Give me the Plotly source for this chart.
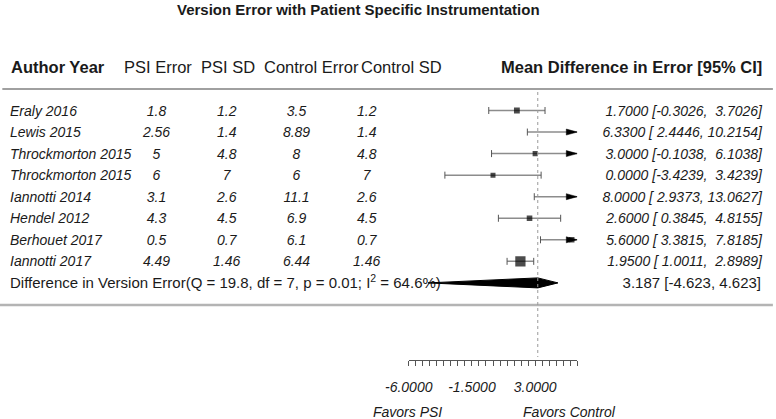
import plotly.graph_objects as go

# ---------------- data ----------------
authors = ["Eraly 2016", "Lewis 2015", "Throckmorton 2015", "Throckmorton 2015",
           "Iannotti 2014", "Hendel 2012", "Berhouet 2017", "Iannotti 2017"]
psi_error = [1.8, 2.56, 5, 6, 3.1, 4.3, 0.5, 4.49]
psi_sd = [1.2, 1.4, 4.8, 7, 2.6, 4.5, 0.7, 1.46]
control_error = [3.5, 8.89, 8, 6, 11.1, 6.9, 6.1, 6.44]
control_sd = [1.2, 1.4, 4.8, 7, 2.6, 4.5, 0.7, 1.46]
mean_diff = [1.7, 6.33, 3.0, 0.0, 8.0, 2.6, 5.6, 1.95]
ci_low = [-0.3026, 2.4446, -0.1038, -3.4239, 2.9373, 0.3845, 3.3815, 1.0011]
ci_high = [3.7026, 10.2154, 6.1038, 3.4239, 13.0627, 4.8155, 7.8185, 2.8989]

summary_label = "Difference in Version Error(Q = 19.8, df = 7, p = 0.01; I<sup>2</sup> = 64.6%)"
summary_est = 3.187
summary_low = -4.623
summary_high = 4.623

axis_tick_vals = [-6.0, -1.5, 3.0]
axis_tick_labels = ["-6.0000", "-1.5000", "3.0000"]
axis_limits = [-6.0, 6.0]

headers = ["Author Year", "PSI Error", "PSI SD", "Control Error", "Control SD",
           "Mean Difference in Error [95% CI]"]
title = "Version Error with Patient Specific Instrumentation"
favors = ["Favors PSI", "Favors Control"]

# ---------------- layout constants ----------------
W, H = 776, 419
FONT = "Liberation Sans, Arial, Helvetica, sans-serif"
TXT = "#1a1a1a"
ROW0, ROWH = 110.5, 21.55          # pixel y of first row, row spacing
AX_PX = (408.7, 577.3)             # pixel extent of forest axis
AX_Y = 360                         # pixel y of forest axis line
TXT_DY = 1.5 / ROWH                # nudge table text down a little
n = len(authors)
rows = [-i for i in range(n)]
sum_row = -n

px_per_unit = (AX_PX[1] - AX_PX[0]) / (axis_limits[1] - axis_limits[0])
px_per_row = ROWH


def py(p):  # pixel y -> paper y
    return 1 - p / H


fig = go.Figure()

# ---------------- table text (layout axis x in pixels) ----------------
def col(x, vals, pos, size=14, style="italic", y=None):
    yy = rows if y is None else y
    fig.add_trace(go.Scatter(
        x=[x] * len(vals), y=[v - TXT_DY for v in yy], text=vals, mode="text",
        textposition=pos, hoverinfo="skip", showlegend=False,
        textfont=dict(family=FONT, size=size, color=TXT, style=style),
        xaxis="x", yaxis="y"))


fmt = lambda v: f"{v:g}"
col(10, authors, "middle right")
col(156.5, [fmt(v) for v in psi_error], "middle center")
col(226.7, [fmt(v) for v in psi_sd], "middle center")
col(296.5, [fmt(v) for v in control_error], "middle center")
col(366.7, [fmt(v) for v in control_sd], "middle center")
ci_text = [f"{e:.4f} [{l:7.4f}, {h:7.4f}]".replace(" ", "\u00a0")
           for e, l, h in zip(mean_diff, ci_low, ci_high)]
col(762, ci_text, "middle left")
col(10, [summary_label], "middle right", size=15, style="normal", y=[sum_row])
col(761, [f"{summary_est:.3f} [{summary_low:.3f}, {summary_high:.3f}]"],
    "middle left", size=15, style="normal", y=[sum_row])

# ---------------- forest plot (axis x2) ----------------
lo_c = [max(l, axis_limits[0]) for l in ci_low]
hi_c = [min(h, axis_limits[1]) for h in ci_high]
lx, ly = [], []
for l, h, r in zip(lo_c, hi_c, rows):
    lx += [l, h, None]
    ly += [r, r, None]
fig.add_trace(go.Scatter(x=lx, y=ly, mode="lines", line=dict(color="#8c8c8c", width=1.5),
                         hoverinfo="skip", showlegend=False, xaxis="x2", yaxis="y"))

cx, cy = [], []
for l, h, r in zip(ci_low, ci_high, rows):
    if l >= axis_limits[0]:
        cx.append(l); cy.append(r)
    if h <= axis_limits[1]:
        cx.append(h); cy.append(r)
fig.add_trace(go.Scatter(x=cx, y=cy, mode="markers",
                         marker=dict(symbol="line-ns-open", size=5, color="#555",
                                     line=dict(color="#555", width=1)),
                         hoverinfo="skip", showlegend=False, xaxis="x2", yaxis="y"))

# arrowheads where the CI is clipped at the axis limit
alen = 11 / px_per_unit
ahalf = 3 / px_per_row
axx, ayy = [], []
for h, r in zip(ci_high, rows):
    if h > axis_limits[1]:
        t = axis_limits[1]
        axx += [t - alen, t, t - alen, t - alen, None]
        ayy += [r + ahalf, r, r - ahalf, r + ahalf, None]
fig.add_trace(go.Scatter(x=axx, y=ayy, mode="lines", fill="toself", fillcolor="black",
                         line=dict(color="black", width=0.5), hoverinfo="skip",
                         showlegend=False, xaxis="x2", yaxis="y"))

# point estimates, sized by inverse-variance weight
w = [1 / ((h - l) / 3.92) ** 2 for l, h in zip(ci_low, ci_high)]
wmin, wmax = min(w), max(w)
sizes = [2.0 + 5.5 * (0.5 + (wi - wmin) / (wmax - wmin)) for wi in w]
fig.add_trace(go.Scatter(x=mean_diff, y=rows, mode="markers",
                         marker=dict(symbol="square", size=sizes, color="black", line=dict(width=0)),
                         hoverinfo="skip", showlegend=False, xaxis="x2", yaxis="y"))

# summary diamond
dh = 5 / px_per_row
fig.add_trace(go.Scatter(
    x=[summary_low, summary_est, summary_high, summary_est, summary_low],
    y=[sum_row, sum_row + dh, sum_row, sum_row - dh, sum_row],
    mode="lines", fill="toself", fillcolor="black", line=dict(color="black", width=1),
    hoverinfo="skip", showlegend=False, xaxis="x2", yaxis="y"))

# ---------------- shapes ----------------
fig.add_shape(type="line", xref="paper", yref="paper", x0=0.003, x1=0.996,
              y0=py(89), y1=py(89), line=dict(color="#808080", width=1.5))
fig.add_shape(type="line", xref="paper", yref="paper", x0=0.0, x1=0.996,
              y0=py(305), y1=py(305), line=dict(color="#b4b4b4", width=2.5))
fig.add_shape(type="line", xref="x2", yref="paper", x0=summary_est, x1=summary_est,
              y0=py(92), y1=py(357), line=dict(color="#999", width=1, dash="dot"))

# ---------------- annotations ----------------
def ann(text, xpx, ypx, anchor, size, bold=False, italic=False):
    if bold:
        text = f"<b>{text}</b>"
    fig.add_annotation(text=text, x=xpx / W, y=py(ypx), xref="paper", yref="paper",
                       xanchor=anchor, yanchor="middle", showarrow=False,
                       font=dict(family=FONT, size=size, color=TXT,
                                 style="italic" if italic else "normal"))


ann(title, 358.7, 9, "center", 15, bold=True)
ann(headers[0], 9, 67, "left", 16.5, bold=True)
ann(headers[1], 121.7, 67, "left", 16.5)
ann(headers[2], 199, 67, "left", 16.5)
ann(headers[3], 261.7, 67, "left", 16.5)
ann(headers[4], 359, 67, "left", 16.5)
ann(headers[5], 764, 67, "right", 16.5, bold=True)
ann(favors[0], 407, 412, "center", 14, italic=True)
ann(favors[1], 569, 412, "center", 14, italic=True)

fig.update_layout(
    width=W, height=H, margin=dict(l=0, r=0, t=0, b=0, pad=0, autoexpand=False),
    paper_bgcolor="white", plot_bgcolor="rgba(0,0,0,0)", showlegend=False,
    xaxis=dict(domain=[0, 1], range=[0, W], visible=False, fixedrange=True),
    yaxis=dict(domain=[0, 1], range=[-(H - ROW0) / ROWH, ROW0 / ROWH], visible=False),
    xaxis2=dict(domain=[AX_PX[0] / W, AX_PX[1] / W], range=axis_limits, anchor="free",
                position=py(AX_Y), side="bottom", showgrid=False, zeroline=False,
                showline=True, linecolor="#555", linewidth=1,
                tickmode="array", tickvals=axis_tick_vals, ticktext=axis_tick_labels,
                ticks="outside", ticklen=5, tickwidth=1, tickcolor="#555",
                ticklabelstandoff=9,
                tickfont=dict(family=FONT, size=14, color=TXT, style="italic"),
                minor=dict(tick0=axis_limits[0], dtick=0.5, ticks="outside", ticklen=5,
                           tickwidth=1, tickcolor="#555", showgrid=False)),
)

fig.write_html("out.html", config={"displayModeBar": False},
               post_script="document.body.style.margin='0';document.body.style.overflow='hidden';")
